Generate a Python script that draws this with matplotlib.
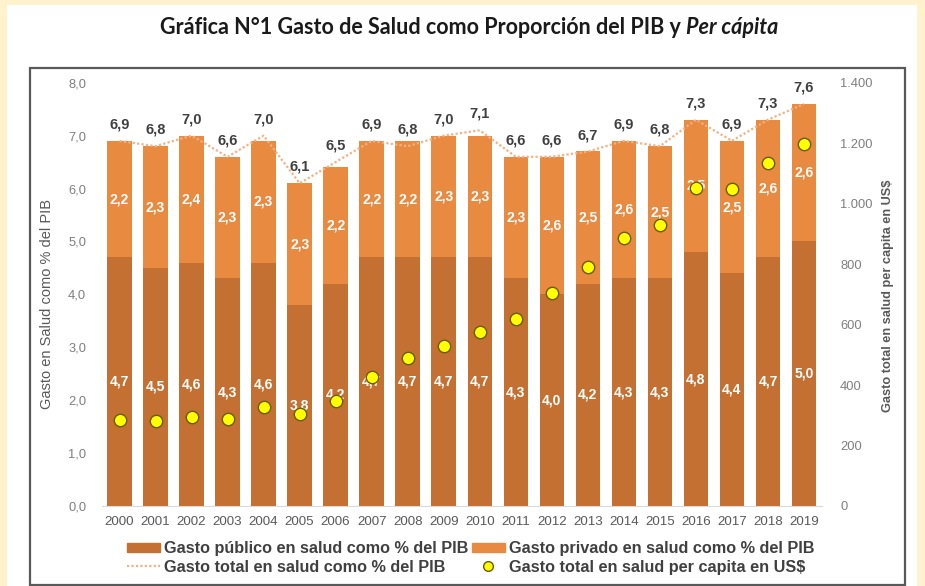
import numpy as np
import matplotlib.pyplot as plt
from matplotlib.patches import Rectangle, Patch
from matplotlib.lines import Line2D
from matplotlib.ticker import FuncFormatter, MultipleLocator

# datos
anios = ["2000", "2001", "2002", "2003", "2004", "2005", "2006", "2007", "2008", "2009",
         "2010", "2011", "2012", "2013", "2014", "2015", "2016", "2017", "2018", "2019"]
publico = [4.7, 4.5, 4.6, 4.3, 4.6, 3.8, 4.2, 4.7, 4.7, 4.7,
           4.7, 4.3, 4.0, 4.2, 4.3, 4.3, 4.8, 4.4, 4.7, 5.0]
privado = [2.2, 2.3, 2.4, 2.3, 2.3, 2.3, 2.2, 2.2, 2.2, 2.3,
           2.3, 2.3, 2.6, 2.5, 2.6, 2.5, 2.5, 2.5, 2.6, 2.6]
total = [6.9, 6.8, 7.0, 6.6, 7.0, 6.1, 6.5, 6.9, 6.8, 7.0,
         7.1, 6.6, 6.6, 6.7, 6.9, 6.8, 7.3, 6.9, 7.3, 7.6]
per_capita = [285, 282, 295, 288, 326, 305, 348, 428, 491, 530,
              575, 618, 704, 792, 888, 929, 1052, 1049, 1133, 1196]

C_PUB = "#C47032"
C_PRIV = "#E98A41"
C_TOT = "#F4B183"
C_DOT = "#FFFF00"

plt.rcParams["font.family"] = ["Liberation Sans", "DejaVu Sans"]

fig = plt.figure(figsize=(9.25, 5.86), dpi=100, facecolor="#FFF2CC")
W, H = 925, 586

# panel blanco y marco del grafico
fig.patches.append(Rectangle((7 / W, 0), (917 - 7) / W, 1 - 5 / H, transform=fig.transFigure,
                             facecolor="white", edgecolor="none", zorder=-2))
fig.patches.append(Rectangle((30 / W, 1 / H), (905 - 30) / W, (585 - 68) / H, transform=fig.transFigure,
                             facecolor="none", edgecolor="#595959", lw=1.6, zorder=-1))

ax = fig.add_axes([101.5 / W, 1 - 506 / H, 720.5 / W, 423.3 / H])
ax.set_facecolor("none")
x = np.arange(len(anios))

ax.bar(x, publico, width=0.68, color=C_PUB, zorder=2)
ax.bar(x, privado, bottom=publico, width=0.68, color=C_PRIV, zorder=2)
ax.plot(x, total, ls=(0, (1, 1)), color=C_TOT, lw=1.6, zorder=3)

for i in range(len(anios)):
    ax.text(x[i], total[i] + 0.31, f"{total[i]:.1f}".replace(".", ","), ha="center", va="center",
            fontsize=10.5, fontweight="bold", color="#404040", zorder=5)
    ax.text(x[i], publico[i] + privado[i] / 2, f"{privado[i]:.1f}".replace(".", ","), ha="center",
            va="center", fontsize=10, fontweight="bold", color="white", zorder=5)
    ax.text(x[i], publico[i] / 2, f"{publico[i]:.1f}".replace(".", ","), ha="center",
            va="center", fontsize=10, fontweight="bold", color="white", zorder=5)

ax.set_xlim(-0.5, len(anios) - 0.5)
ax.set_ylim(0, 8)
ax.yaxis.set_major_locator(MultipleLocator(1))
ax.yaxis.set_major_formatter(FuncFormatter(lambda v, _: f"{v:.1f}".replace(".", ",")))
ax.set_xticks(x)
ax.set_xticklabels(anios)
ax.tick_params(axis="y", length=0, colors="#7F7F7F", labelsize=9.3, pad=11)
ax.tick_params(axis="x", length=0, colors="#595959", labelsize=9.6, pad=7)
for s in ["left", "right", "top"]:
    ax.spines[s].set_visible(False)
ax.spines["bottom"].set_color("#D9D9D9")

# eje secundario: per capita
ax2 = ax.twinx()
ax2.scatter(x, per_capita, s=80, c=C_DOT, edgecolors="#6B5A00", linewidths=1, zorder=4)
ax2.set_ylim(0, 1400)
ax2.yaxis.set_major_locator(MultipleLocator(200))
ax2.yaxis.set_major_formatter(FuncFormatter(lambda v, _: f"{int(v):,}".replace(",", ".")))
ax2.tick_params(axis="y", length=0, colors="#7F7F7F", labelsize=9.3, pad=13)
for s in ax2.spines.values():
    s.set_visible(False)

fig.text(47 / W, 1 - 304 / H, "Gasto en Salud como % del PIB", rotation=90, ha="center", va="center",
         fontsize=10.5, color="#595959")
fig.text(888 / W, 1 - 296 / H, "Gasto total en salud per capita en US$", rotation=90, ha="center",
         va="center", fontsize=9.2, fontweight="bold", color="#595959")

# titulo (parte en cursiva)
r = fig.canvas.get_renderer()
t1 = fig.text(0, 1 - 27 / H, "Gráfica N°1 Gasto de Salud como Proporción del PIB y", family="Lato",
              fontweight="bold", fontsize=15.5, va="center", color="#1a1a1a")
t2 = fig.text(0, 1 - 27 / H, "Per cápita", family="Lato", fontweight="bold", style="italic",
              fontsize=15.5, va="center", color="#1a1a1a")
w1 = t1.get_window_extent(r).width
w2 = t2.get_window_extent(r).width
gap = 5
x0 = 469 - (w1 + w2 + gap) / 2
t1.set_x(x0 / W)
t2.set_x((x0 + w1 + gap) / W)

handles = [Patch(color=C_PUB), Line2D([], [], ls=(0, (1, 1)), color=C_TOT, lw=1.6),
           Patch(color=C_PRIV),
           Line2D([], [], marker="o", ls="none", mfc=C_DOT, mec="#6B5A00", ms=7)]
labels = ["Gasto público en salud como % del PIB", "Gasto total en salud como % del PIB",
          "Gasto privado en salud como % del PIB", "Gasto total en salud per capita en US$"]
fig.legend(handles, labels, ncol=2, loc="center", bbox_to_anchor=(471 / W, 1 - 558 / H),
           frameon=False, prop=dict(weight="bold", size=11.7), labelcolor="#404040",
           handlelength=2.0, handleheight=0.5, handletextpad=0.3, columnspacing=0.2,
           labelspacing=0.2)

fig.savefig("out.png", dpi=100, facecolor=fig.get_facecolor())
